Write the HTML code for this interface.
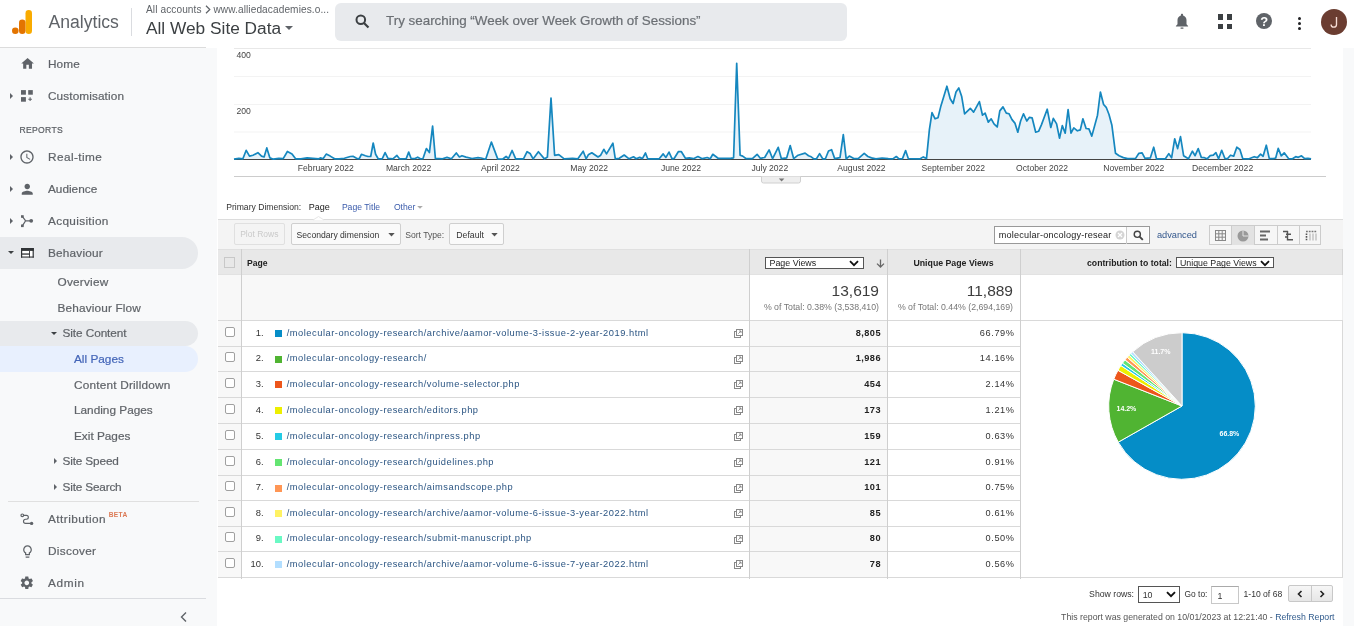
<!DOCTYPE html>
<html><head><meta charset="utf-8">
<style>
*{box-sizing:border-box;margin:0;padding:0}
html,body{width:1354px;height:626px;overflow:hidden;background:#fff;font-family:"Liberation Sans",sans-serif;color:#222}
.a{position:absolute;white-space:nowrap;line-height:1}
#hdr{position:absolute;left:0;top:0;width:1354px;height:48px;background:#fff}
#side{position:absolute;left:0;top:48px;width:217px;height:578px;background:#f8f9fa}
#rstrip{position:absolute;left:1343px;top:48px;width:11px;height:578px;background:#f8f9fa}
.nav{-webkit-text-stroke:0.2px currentColor;position:absolute;font-size:11.8px;line-height:1;color:#5f6368;white-space:nowrap}
.sub{position:absolute;font-size:11.9px;color:#5f6368;white-space:nowrap}
.tri-r{position:absolute;width:0;height:0;border-top:3px solid transparent;border-bottom:3px solid transparent;border-left:3px solid #5f6368}
.tri-d{position:absolute;width:0;height:0;border-left:3.5px solid transparent;border-right:3.5px solid transparent;border-top:3.5px solid #3c4043}
.lbl{font-size:8.6px;color:#444}
.cb{width:10px;height:10px;border:1px solid #a0a0a0;border-radius:2px;background:#fff}
.lnk{font-size:9.3px;letter-spacing:0.52px;color:#2a5482}
.pl{font-size:7px;font-weight:bold;color:#fff}
body{will-change:transform}
</style></head><body>
<div id="hdr"></div>
<div id="side"></div>
<div class="a" style="left:0;top:47px;width:206px;height:1px;background:#dcdcdc"></div>
<div id="rstrip"></div>

<!-- header content -->
<svg class="a" style="left:12px;top:10px" width="21" height="24" viewBox="0 0 21 24">
<rect x="13.5" y="0" width="6.5" height="24" rx="3.25" fill="#f9ab00"/>
<rect x="7" y="9.5" width="6.5" height="14.5" rx="3.25" fill="#e37400"/>
<circle cx="3.3" cy="20.7" r="3.3" fill="#e37400"/>
</svg>
<div class="a" style="left:48.5px;top:13.8px;font-size:17.6px;color:#5f6368">Analytics</div>
<div class="a" style="left:131px;top:8px;width:1px;height:28px;background:#dadce0"></div>
<div class="a" style="left:146px;top:4.6px;font-size:10.1px;letter-spacing:0.1px;color:#5f6368">All accounts <svg width="6" height="9" viewBox="0 0 6 9" style="vertical-align:-1px"><path d="M1 0.8 L4.8 4.5 L1 8.2" fill="none" stroke="#5f6368" stroke-width="1.2"/></svg> www.alliedacademies.o...</div>
<div class="a" style="left:146px;top:19.9px;font-size:17.3px;color:#3c4043">All Web Site Data</div>
<div class="a" style="left:285px;top:26px;width:0;height:0;border-left:4px solid transparent;border-right:4px solid transparent;border-top:4px solid #5f6368"></div>
<div class="a" style="left:335px;top:3px;width:512px;height:38px;background:#e8eaed;border-radius:6px"></div>
<svg class="a" style="left:355px;top:14px" width="15" height="15" viewBox="0 0 15 15"><circle cx="5.8" cy="5.8" r="4.3" fill="none" stroke="#3c4043" stroke-width="2"/><line x1="9" y1="9" x2="13.5" y2="13.5" stroke="#3c4043" stroke-width="2.2"/></svg>
<div class="a" style="left:386px;top:14px;font-size:13.4px;color:#6b6f74;-webkit-text-stroke:0.2px #6b6f74">Try searching &#x201C;Week over Week Growth of Sessions&#x201D;</div>


<!-- sidebar -->
<div class="a" style="left:0;top:237px;width:198px;height:32px;background:#e8eaed;border-radius:0 16px 16px 0"></div>
<div class="a" style="left:0;top:321px;width:198px;height:25px;background:#e8eaed;border-radius:0 12.5px 12.5px 0"></div>
<div class="a" style="left:0;top:346px;width:198px;height:26px;background:#e8f0fe;border-radius:0 13px 13px 0"></div>
<div class="a" style="left:8px;top:501px;width:191px;height:1px;background:#e0e0e0"></div>
<div class="a" style="left:0;top:598px;width:206px;height:1px;background:#dadce0"></div>

<div class="nav" style="left:48px;top:58.8px;letter-spacing:0.1px">Home</div>
<div class="nav" style="left:48px;top:90.8px;letter-spacing:0.1px">Customisation</div>
<div class="nav" style="left:19.5px;top:125.9px;font-size:8.6px;letter-spacing:0.3px;color:#5a5e63">REPORTS</div>
<div class="nav" style="left:48px;top:151.8px;letter-spacing:0.42px">Real-time</div>
<div class="nav" style="left:48px;top:183.8px">Audience</div>
<div class="nav" style="left:48px;top:215.8px;letter-spacing:0.33px">Acquisition</div>
<div class="nav" style="left:48px;top:247.8px;letter-spacing:0.2px">Behaviour</div>
<div class="nav" style="left:57.5px;top:276.8px;letter-spacing:0.23px">Overview</div>
<div class="nav" style="left:57.5px;top:302.8px;letter-spacing:0.15px">Behaviour Flow</div>
<div class="nav" style="left:62.5px;top:327.8px;letter-spacing:-0.08px">Site Content</div>
<div class="nav" style="left:74px;top:353.8px;color:#4365b8">All Pages</div>
<div class="nav" style="left:74px;top:379.8px;letter-spacing:0.2px">Content Drilldown</div>
<div class="nav" style="left:74px;top:405.3px">Landing Pages</div>
<div class="nav" style="left:74px;top:430.8px">Exit Pages</div>
<div class="nav" style="left:62.5px;top:455.8px;letter-spacing:-0.15px">Site Speed</div>
<div class="nav" style="left:62.5px;top:481.8px;letter-spacing:-0.18px">Site Search</div>
<div class="nav" style="left:48px;top:513.8px;letter-spacing:0.45px">Attribution</div>
<div class="a" style="left:108.8px;top:512.2px;font-size:6.6px;line-height:1;color:#dc7a55;font-weight:bold;letter-spacing:0.3px">BETA</div>
<div class="nav" style="left:48px;top:545.8px;letter-spacing:0.3px">Discover</div>
<div class="nav" style="left:48px;top:577.8px;letter-spacing:0.65px">Admin</div>

<div class="tri-r" style="left:10px;top:93px"></div>
<div class="tri-r" style="left:10px;top:154px"></div>
<div class="tri-r" style="left:10px;top:186px"></div>
<div class="tri-r" style="left:10px;top:218px"></div>
<div class="tri-d" style="left:8px;top:250.5px;border-width:3.5px 3.2px 0 3.2px"></div>
<div class="tri-d" style="left:51px;top:331.5px;border-width:3.5px 3.3px 0 3.3px"></div>
<div class="tri-r" style="left:53.5px;top:458px"></div>
<div class="tri-r" style="left:53.5px;top:484px"></div>

<svg class="a" style="left:19.7px;top:56.1px" width="15.2" height="15.2" viewBox="0 0 24 24"><path fill="#5f6368" d="M10 20v-6h4v6h5v-8h3L12 3 2 12h3v8z"/></svg>
<svg class="a" style="left:21px;top:90px" width="12" height="12" viewBox="0 0 12 12"><g fill="#5f6368"><rect x="0" y="0.1" width="4.9" height="4.6"/><rect x="7.2" y="0.1" width="4.6" height="4.6"/><rect x="0" y="7.1" width="4.9" height="4.6"/></g><path d="M9.1 7.3 V11 M7.3 9.2 H10.9" stroke="#5f6368" stroke-width="1.1"/></svg>
<svg class="a" style="left:19.3px;top:148.6px" width="16" height="16" viewBox="0 0 24 24"><path fill="#5f6368" d="M11.99 2C6.47 2 2 6.48 2 12s4.47 10 9.99 10C17.52 22 22 17.52 22 12S17.52 2 11.99 2zM12 20c-4.42 0-8-3.58-8-8s3.58-8 8-8 8 3.58 8 8-3.58 8-8 8zm.5-13H11v6l5.25 3.15.75-1.23-4.5-2.67z"/></svg>
<svg class="a" style="left:19px;top:181.2px" width="16.5" height="16.5" viewBox="0 0 24 24"><path fill="#5f6368" d="M12 12c2.21 0 4-1.79 4-4s-1.79-4-4-4-4 1.79-4 4 1.79 4 4 4zm0 2c-2.67 0-8 1.34-8 4v2h16v-2c0-2.66-5.33-4-8-4z"/></svg>
<svg class="a" style="left:19px;top:213px" width="16" height="16" viewBox="0 0 16 16"><g fill="#5f6368"><rect x="2" y="2.2" width="2.7" height="2.6"/><rect x="2" y="11.5" width="2.7" height="2.6"/><circle cx="12.2" cy="7.8" r="1.9"/></g><path d="M3.5 3.6 L6.6 7.8 L3.5 12.6 M6.6 7.8 H12" fill="none" stroke="#5f6368" stroke-width="1.2"/></svg>
<svg class="a" style="left:21px;top:248.2px" width="13" height="10" viewBox="0 0 13 10"><rect x="0.5" y="0.5" width="11.8" height="8.6" fill="#fff"/><g fill="#303336"><rect x="0" y="0" width="12.8" height="2.9"/><rect x="0" y="0" width="1.2" height="9.6"/><rect x="11.6" y="0" width="1.2" height="9.6"/><rect x="0" y="8.5" width="12.8" height="1.1"/><rect x="0" y="5.4" width="9" height="1.3"/><rect x="8.1" y="2.9" width="0.9" height="6.7"/></g></svg>
<svg class="a" style="left:19.5px;top:512.5px" width="14" height="13" viewBox="0 0 14 13"><g fill="none" stroke="#5f6368" stroke-width="1.15"><circle cx="2.3" cy="2.3" r="1.35"/><path d="M3.65 2.3 H6.4 A1.95 1.95 0 0 1 6.4 6.2 H5.6 A2.1 2.1 0 0 0 5.6 10.4 H10"/></g><circle cx="11.6" cy="10.4" r="1.7" fill="#5f6368"/></svg>
<svg class="a" style="left:20px;top:544.3px" width="15" height="15" viewBox="0 0 24 24"><path fill="#5f6368" d="M9 21c0 .55.45 1 1 1h4c.55 0 1-.45 1-1v-1H9v1zm3-19C8.14 2 5 5.14 5 9c0 2.38 1.19 4.47 3 5.74V17c0 .55.45 1 1 1h6c.55 0 1-.45 1-1v-2.26c1.81-1.27 3-3.36 3-5.74 0-3.86-3.14-7-7-7zm2.85 11.1l-.85.6V16h-4v-2.3l-.85-.6C7.8 12.16 7 10.63 7 9c0-2.76 2.24-5 5-5s5 2.24 5 5c0 1.63-.8 3.16-2.15 4.1z"/></svg>
<svg class="a" style="left:19.2px;top:575.2px" width="15.6" height="15.6" viewBox="0 0 24 24"><path fill="#5f6368" d="M19.14 12.94c.04-.3.06-.61.06-.94 0-.32-.02-.64-.07-.94l2.03-1.58c.18-.14.23-.41.12-.61l-1.92-3.32c-.12-.22-.37-.29-.59-.22l-2.39.96c-.5-.38-1.03-.7-1.62-.94l-.36-2.54c-.04-.24-.24-.41-.48-.41h-3.84c-.24 0-.43.17-.47.41l-.36 2.54c-.59.24-1.13.57-1.62.94l-2.39-.96c-.22-.08-.47 0-.59.22L2.74 8.87c-.12.21-.08.47.12.61l2.03 1.58c-.05.3-.09.63-.09.94s.02.64.07.94l-2.03 1.58c-.18.14-.23.41-.12.61l1.92 3.32c.12.22.37.29.59.22l2.39-.96c.5.38 1.03.7 1.62.94l.36 2.54c.05.24.24.41.48.41h3.84c.24 0 .44-.17.47-.41l.36-2.54c.59-.24 1.13-.56 1.62-.94l2.39.96c.22.08.47 0 .59-.22l1.92-3.32c.12-.22.07-.47-.12-.61l-2.01-1.58zM12 15.6c-1.98 0-3.6-1.62-3.6-3.6s1.62-3.6 3.6-3.6 3.6 1.62 3.6 3.6-1.62 3.6-3.6 3.6z"/></svg>
<svg class="a" style="left:179px;top:611px" width="9" height="12" viewBox="0 0 9 12"><path d="M7 1.5L2.5 6 7 10.5" fill="none" stroke="#5f6368" stroke-width="1.4"/></svg>


<!-- chart -->
<svg class="a" style="left:0;top:0" width="1354" height="190" viewBox="0 0 1354 190">
<g stroke="#f3f3f3" stroke-width="1"><line x1="234" y1="48.5" x2="1311" y2="48.5" stroke="#e8e8e8"/><line x1="234" y1="76.5" x2="1311" y2="76.5"/><line x1="234" y1="104.5" x2="1311" y2="104.5"/><line x1="234" y1="132" x2="1311" y2="132"/></g>
<path d="M234,159.3 L234,159.2 L238.9,158.3 L242.9,158.8 L246.2,150.3 L249.5,156.1 L253,155.2 L257.9,152.7 L261.5,156.1 L264.1,157 L266.8,147.9 L269.9,157.9 L273.4,159.2 L278.8,158.3 L283.2,158.6 L287.4,151.5 L292,153.9 L295.6,158.8 L300.9,158.8 L307.1,157.9 L318.7,158.8 L320.4,157.9 L323.1,158.8 L326.2,154.1 L330.2,156.1 L334.6,158.8 L339,158.8 L344.4,158.3 L350.3,156.5 L353,156.3 L356.5,158.3 L359.2,158.8 L361.4,154.3 L365.4,155.7 L368,156.5 L370.7,156.5 L373.2,143 L375.6,154.3 L378.2,158.8 L382.2,158.8 L385.1,152.6 L388,158.3 L392.9,158.8 L396.9,155.4 L399.5,158.8 L406.2,158.6 L408.7,152.1 L411,158.3 L415,158.6 L417.7,157.2 L420.4,158.8 L423,158.6 L426.4,148.6 L429.4,152.6 L432.6,126.1 L435.4,158.6 L439,158.6 L442.5,158.8 L447,157.4 L451.4,158.8 L456.3,153 L459.4,157 L462,155.7 L466,157.1 L472,158.5 L478,157.7 L481,158 L485.7,159.2 L491.4,142.1 L497.7,158.9 L502.5,159.2 L506.1,156.5 L508.5,158.5 L512.1,150.5 L515.7,158.9 L523.5,158.9 L527.1,151.7 L530.1,153.5 L533.1,158.9 L538.4,151.7 L544.4,158.9 L547.4,157.1 L551,98.1 L554.6,155.3 L558.8,154.7 L564.2,158.9 L572.6,158.3 L577.7,158.9 L583.2,151.2 L586.1,158.8 L588.3,154.8 L591.8,152.8 L598,157 L600.7,155.2 L603.8,149.3 L606.5,153.9 L612.9,143.2 L615.3,158.9 L619.3,158.3 L624.2,155 L629.1,158.8 L633.5,156.8 L636.2,158.8 L639.7,157.4 L642.4,158.6 L645.5,153 L647.7,158.8 L654.8,158.8 L659.2,158.8 L663.2,153.9 L665.9,157.4 L669,152.1 L672.1,158.8 L674.3,158.3 L678.3,151.7 L681.4,151.7 L685.4,158.3 L689.4,157.9 L693.5,158.7 L697.9,156.6 L702.3,158.7 L707.2,157.5 L710.2,158.7 L712.8,154.3 L718.1,158.3 L725.1,158.3 L730.4,158.3 L733.6,157.8 L736.7,63.4 L740.1,155.2 L742.7,156.1 L746.2,158.7 L752.4,158.7 L757.1,154.3 L760.3,158.3 L764.7,157.5 L769.1,149.9 L772.6,158.7 L778.2,147.3 L781.4,158.7 L786.7,157.8 L790.2,145.5 L793.7,158.7 L798.1,155.2 L805.1,153.1 L808.5,155.7 L811.2,156.8 L813.9,158.9 L816.5,158.8 L819.6,153.6 L822.7,158.8 L825.4,158.8 L828.5,151 L831.6,149.7 L834.7,158.6 L840,157.7 L843.3,134.6 L846.2,158.8 L849.3,156.1 L853.8,158.6 L858.2,158.6 L864.2,153.4 L867.9,156.5 L871.5,157.9 L875.9,158.9 L882.1,158 L888.3,158.6 L892.8,158.9 L896.3,156.5 L899,158.9 L902.5,158.6 L905.6,150.6 L908.3,158.6 L920.2,158.8 L923.3,156.9 L926.5,158.6 L929.4,129.6 L932,112.7 L935.1,118.8 L938,117.7 L940.9,105.9 L946.9,86.2 L950.2,98.7 L953.1,103.5 L956,92 L958.8,87.9 L961.7,96.6 L964.6,113.8 L970.3,108.3 L973.6,112.1 L979.4,101.6 L982.5,115.2 L985.1,113.1 L988.3,122.1 L991.2,118.8 L994,123.9 L997.2,127 L999.8,110.9 L1003,106.9 L1006.3,113.1 L1009.1,113.8 L1012,119.6 L1014.9,123.1 L1017.8,132.2 L1020.6,121 L1023.5,113.8 L1026.8,121 L1029.3,117.4 L1032.1,117.8 L1035.7,132.2 L1038.6,131.3 L1041.5,124.6 L1047.2,109.2 L1050.8,127.5 L1053.3,118.4 L1056.6,123.9 L1059.5,138.2 L1062.3,125.6 L1065.2,133.2 L1068.1,109.5 L1071,133.2 L1073.8,127.9 L1077.4,130.8 L1080.3,129.9 L1082.9,118.8 L1086.1,128.5 L1088.9,128.9 L1091.8,136.1 L1097.5,115.2 L1100.4,92 L1103.6,104.5 L1106.2,107.3 L1109,114.5 L1111.9,125.3 L1115.5,153.3 L1119.1,155.8 L1123.4,157.6 L1127.7,158.6 L1135.6,158.4 L1138.9,153.3 L1142.1,152.9 L1145,158.4 L1150.3,157.9 L1153.7,147.2 L1156.5,158.8 L1165.4,158.8 L1168.8,153.6 L1171.6,157.9 L1174.7,138.8 L1177.6,148.6 L1180.5,136.6 L1183.6,155.7 L1188.4,158.8 L1192.4,151.2 L1195.1,155.7 L1198.2,148.6 L1201.3,157.4 L1204.4,157.7 L1207.1,158.8 L1210.2,155.7 L1213.3,155.2 L1215.9,152.6 L1218.6,158.8 L1221.7,150.3 L1224.8,158.3 L1227.4,158.8 L1230.5,155.2 L1233.7,156.1 L1236.8,147.2 L1239.9,149.5 L1242.7,158.6 L1249.1,158.8 L1254.2,156.7 L1257.4,157.6 L1260.6,154.1 L1263.1,156.3 L1266.3,145.2 L1269.3,158.6 L1273.4,158.6 L1275.7,158 L1278.2,148.4 L1281.3,155.8 L1284.2,152.8 L1288.5,158.6 L1292.5,158.8 L1295.7,156.7 L1298.3,157.3 L1301.5,155.8 L1304.7,158.6 L1307.9,158.3 L1311.1,158.8 L1311.1,159.3 Z" fill="#e7f2f9"/>
<line x1="234" y1="159.5" x2="1311" y2="159.5" stroke="#444" stroke-width="1"/>
<polyline points="234,159.2 238.9,158.3 242.9,158.8 246.2,150.3 249.5,156.1 253,155.2 257.9,152.7 261.5,156.1 264.1,157 266.8,147.9 269.9,157.9 273.4,159.2 278.8,158.3 283.2,158.6 287.4,151.5 292,153.9 295.6,158.8 300.9,158.8 307.1,157.9 318.7,158.8 320.4,157.9 323.1,158.8 326.2,154.1 330.2,156.1 334.6,158.8 339,158.8 344.4,158.3 350.3,156.5 353,156.3 356.5,158.3 359.2,158.8 361.4,154.3 365.4,155.7 368,156.5 370.7,156.5 373.2,143 375.6,154.3 378.2,158.8 382.2,158.8 385.1,152.6 388,158.3 392.9,158.8 396.9,155.4 399.5,158.8 406.2,158.6 408.7,152.1 411,158.3 415,158.6 417.7,157.2 420.4,158.8 423,158.6 426.4,148.6 429.4,152.6 432.6,126.1 435.4,158.6 439,158.6 442.5,158.8 447,157.4 451.4,158.8 456.3,153 459.4,157 462,155.7 466,157.1 472,158.5 478,157.7 481,158 485.7,159.2 491.4,142.1 497.7,158.9 502.5,159.2 506.1,156.5 508.5,158.5 512.1,150.5 515.7,158.9 523.5,158.9 527.1,151.7 530.1,153.5 533.1,158.9 538.4,151.7 544.4,158.9 547.4,157.1 551,98.1 554.6,155.3 558.8,154.7 564.2,158.9 572.6,158.3 577.7,158.9 583.2,151.2 586.1,158.8 588.3,154.8 591.8,152.8 598,157 600.7,155.2 603.8,149.3 606.5,153.9 612.9,143.2 615.3,158.9 619.3,158.3 624.2,155 629.1,158.8 633.5,156.8 636.2,158.8 639.7,157.4 642.4,158.6 645.5,153 647.7,158.8 654.8,158.8 659.2,158.8 663.2,153.9 665.9,157.4 669,152.1 672.1,158.8 674.3,158.3 678.3,151.7 681.4,151.7 685.4,158.3 689.4,157.9 693.5,158.7 697.9,156.6 702.3,158.7 707.2,157.5 710.2,158.7 712.8,154.3 718.1,158.3 725.1,158.3 730.4,158.3 733.6,157.8 736.7,63.4 740.1,155.2 742.7,156.1 746.2,158.7 752.4,158.7 757.1,154.3 760.3,158.3 764.7,157.5 769.1,149.9 772.6,158.7 778.2,147.3 781.4,158.7 786.7,157.8 790.2,145.5 793.7,158.7 798.1,155.2 805.1,153.1 808.5,155.7 811.2,156.8 813.9,158.9 816.5,158.8 819.6,153.6 822.7,158.8 825.4,158.8 828.5,151 831.6,149.7 834.7,158.6 840,157.7 843.3,134.6 846.2,158.8 849.3,156.1 853.8,158.6 858.2,158.6 864.2,153.4 867.9,156.5 871.5,157.9 875.9,158.9 882.1,158 888.3,158.6 892.8,158.9 896.3,156.5 899,158.9 902.5,158.6 905.6,150.6 908.3,158.6 920.2,158.8 923.3,156.9 926.5,158.6 929.4,129.6 932,112.7 935.1,118.8 938,117.7 940.9,105.9 946.9,86.2 950.2,98.7 953.1,103.5 956,92 958.8,87.9 961.7,96.6 964.6,113.8 970.3,108.3 973.6,112.1 979.4,101.6 982.5,115.2 985.1,113.1 988.3,122.1 991.2,118.8 994,123.9 997.2,127 999.8,110.9 1003,106.9 1006.3,113.1 1009.1,113.8 1012,119.6 1014.9,123.1 1017.8,132.2 1020.6,121 1023.5,113.8 1026.8,121 1029.3,117.4 1032.1,117.8 1035.7,132.2 1038.6,131.3 1041.5,124.6 1047.2,109.2 1050.8,127.5 1053.3,118.4 1056.6,123.9 1059.5,138.2 1062.3,125.6 1065.2,133.2 1068.1,109.5 1071,133.2 1073.8,127.9 1077.4,130.8 1080.3,129.9 1082.9,118.8 1086.1,128.5 1088.9,128.9 1091.8,136.1 1097.5,115.2 1100.4,92 1103.6,104.5 1106.2,107.3 1109,114.5 1111.9,125.3 1115.5,153.3 1119.1,155.8 1123.4,157.6 1127.7,158.6 1135.6,158.4 1138.9,153.3 1142.1,152.9 1145,158.4 1150.3,157.9 1153.7,147.2 1156.5,158.8 1165.4,158.8 1168.8,153.6 1171.6,157.9 1174.7,138.8 1177.6,148.6 1180.5,136.6 1183.6,155.7 1188.4,158.8 1192.4,151.2 1195.1,155.7 1198.2,148.6 1201.3,157.4 1204.4,157.7 1207.1,158.8 1210.2,155.7 1213.3,155.2 1215.9,152.6 1218.6,158.8 1221.7,150.3 1224.8,158.3 1227.4,158.8 1230.5,155.2 1233.7,156.1 1236.8,147.2 1239.9,149.5 1242.7,158.6 1249.1,158.8 1254.2,156.7 1257.4,157.6 1260.6,154.1 1263.1,156.3 1266.3,145.2 1269.3,158.6 1273.4,158.6 1275.7,158 1278.2,148.4 1281.3,155.8 1284.2,152.8 1288.5,158.6 1292.5,158.8 1295.7,156.7 1298.3,157.3 1301.5,155.8 1304.7,158.6 1307.9,158.3 1311.1,158.8" fill="none" stroke="#1587bf" stroke-width="1.7" stroke-linejoin="round"/>
<line x1="234" y1="176.5" x2="1326" y2="176.5" stroke="#ccc" stroke-width="1"/>
<path d="M761.5,176.5 v4.5 a2,2 0 0 0 2,2 h35 a2,2 0 0 0 2,-2 v-4.5" fill="#eee" stroke="#d0d0d0" stroke-width="1"/>
<path d="M778.8,178.6 h5.6 l-2.8,2.8z" fill="#777"/>
</svg>
<div class="a lbl" style="left:236.5px;top:50.7px">400</div>
<div class="a lbl" style="left:236.5px;top:107px">200</div>
<div class="a lbl" style="left:265.8px;width:120px;text-align:center;top:164.2px">February 2022</div>
<div class="a lbl" style="left:348.6px;width:120px;text-align:center;top:164.2px">March 2022</div>
<div class="a lbl" style="left:440.4px;width:120px;text-align:center;top:164.2px">April 2022</div>
<div class="a lbl" style="left:529.2px;width:120px;text-align:center;top:164.2px">May 2022</div>
<div class="a lbl" style="left:621.0px;width:120px;text-align:center;top:164.2px">June 2022</div>
<div class="a lbl" style="left:709.8px;width:120px;text-align:center;top:164.2px">July 2022</div>
<div class="a lbl" style="left:801.5px;width:120px;text-align:center;top:164.2px">August 2022</div>
<div class="a lbl" style="left:893.3px;width:120px;text-align:center;top:164.2px">September 2022</div>
<div class="a lbl" style="left:982.1px;width:120px;text-align:center;top:164.2px">October 2022</div>
<div class="a lbl" style="left:1073.8px;width:120px;text-align:center;top:164.2px">November 2022</div>
<div class="a lbl" style="left:1162.6px;width:120px;text-align:center;top:164.2px">December 2022</div>

<!-- table -->
<div class="a" style="left:218px;top:219px;width:1125px;height:30px;background:#f4f4f4;border-top:1px solid #dcdcdc"></div>
<div class="a" style="left:218px;top:249px;width:1125px;height:26px;background:#e8e8e8;border-top:1px solid #e0e0e0;border-bottom:1px solid #e2e2e2"></div>
<div class="a" style="left:218px;top:275px;width:532px;height:45px;background:#f8f8f8"></div>
<div class="a" style="left:224px;top:256.8px;width:11px;height:11px;border:1px solid #c8c8c8"></div>
<div class="a" style="left:247px;top:258.6px;font-size:8.6px;font-weight:bold;color:#222">Page</div>
<div class="a" style="left:765px;top:257px;width:99px;height:12px;background:#fff;border:1px solid #555"></div>
<div class="a" style="left:769.5px;top:259.3px;font-size:8.9px;color:#222">Page Views</div>
<svg class="a" style="left:849px;top:259.5px" width="10" height="7" viewBox="0 0 10 7"><path d="M1 1.2 L5 5.2 L9 1.2" fill="none" stroke="#111" stroke-width="1.8"/></svg>
<svg class="a" style="left:875.5px;top:258.5px" width="9" height="9" viewBox="0 0 9 9"><path d="M4.5 0.5 V8 M1 4.6 L4.5 8 L8 4.6" fill="none" stroke="#666" stroke-width="1.3"/></svg>
<div class="a" style="left:887px;width:133px;text-align:center;top:258.6px;font-size:8.75px;font-weight:bold;color:#222">Unique Page Views</div>
<div class="a" style="left:1087px;top:258.6px;font-size:8.7px;font-weight:bold;color:#222">contribution to total:</div>
<div class="a" style="left:1175.5px;top:257.3px;width:98px;height:11px;background:#fff;border:1px solid #555"></div>
<div class="a" style="left:1180px;top:259px;font-size:8.8px;color:#222">Unique Page Views</div>
<svg class="a" style="left:1259.5px;top:259.5px" width="10" height="7" viewBox="0 0 10 7"><path d="M1 1.2 L5 5.2 L9 1.2" fill="none" stroke="#111" stroke-width="1.8"/></svg>
<div class="a" style="left:750px;width:129px;text-align:right;top:283.1px;font-size:15.5px;color:#3d3d3d">13,619</div>
<div class="a" style="left:750px;width:129px;text-align:right;top:302.8px;font-size:8.75px;color:#777">% of Total: 0.38% (3,538,410)</div>
<div class="a" style="left:887px;width:126px;text-align:right;top:283.1px;font-size:15.5px;color:#3d3d3d">11,889</div>
<div class="a" style="left:887px;width:126px;text-align:right;top:302.8px;font-size:8.75px;color:#777">% of Total: 0.44% (2,694,169)</div>
<!-- rows -->
<div class="a" style="left:218px;top:320px;width:23px;height:258px;background:#f8f8f8"></div>
<div class="a" style="left:750px;top:320px;width:137px;height:258px;background:#f8f8f8"></div>
<div class="a" style="left:218px;top:320px;width:1125px;height:1px;background:#d9d9d9"></div>
<div class="a" style="left:218px;top:346px;width:803px;height:1px;background:#d9d9d9"></div>
<div class="a" style="left:218px;top:371px;width:803px;height:1px;background:#d9d9d9"></div>
<div class="a" style="left:218px;top:397px;width:803px;height:1px;background:#d9d9d9"></div>
<div class="a" style="left:218px;top:423px;width:803px;height:1px;background:#d9d9d9"></div>
<div class="a" style="left:218px;top:449px;width:803px;height:1px;background:#d9d9d9"></div>
<div class="a" style="left:218px;top:475px;width:803px;height:1px;background:#d9d9d9"></div>
<div class="a" style="left:218px;top:500px;width:803px;height:1px;background:#d9d9d9"></div>
<div class="a" style="left:218px;top:526px;width:803px;height:1px;background:#d9d9d9"></div>
<div class="a" style="left:218px;top:551px;width:803px;height:1px;background:#d9d9d9"></div>
<div class="a" style="left:218px;top:577px;width:1125px;height:1px;background:#d9d9d9"></div>
<div class="a" style="left:1342px;top:249px;width:1px;height:26px;background:#d6d6d6"></div>
<div class="a" style="left:1342px;top:275px;width:1px;height:45px;background:#eeeeee"></div>
<div class="a" style="left:1342px;top:320px;width:1px;height:258.00px;background:#d9d9d9"></div>
<div class="a" style="left:241px;top:249px;width:1px;height:329.50px;background:#cfcfcf"></div>
<div class="a" style="left:749px;top:249px;width:1px;height:329.50px;background:#cfcfcf"></div>
<div class="a" style="left:887px;top:249px;width:1px;height:329.50px;background:#cfcfcf"></div>
<div class="a" style="left:1020px;top:249px;width:1px;height:329.50px;background:#cfcfcf"></div>
<div class="a cb" style="left:225px;top:326.94px"></div>
<div class="a" style="left:230px;width:33.5px;text-align:right;top:327.94px;font-size:9.4px;color:#333">1.</div>
<div class="a" style="left:275px;top:330.24px;width:7px;height:7px;background:#058dc7"></div>
<div class="a lnk" style="left:286.7px;top:328.54px">/molecular-oncology-research/archive/aamor-volume-3-issue-2-year-2019.html</div>
<svg class="a" style="left:734px;top:329.04px" width="9" height="9" viewBox="0 0 9 9"><rect x="0.5" y="2.5" width="6" height="6" fill="#fff" stroke="#888" stroke-width="1"/><rect x="2.5" y="0.5" width="6" height="6" fill="#fff" stroke="#888" stroke-width="1"/><path d="M4.3 4.7 L7 2 M5 2 H7 V4" stroke="#888" stroke-width="0.9" fill="none"/></svg>
<div class="a" style="left:750px;width:131px;text-align:right;top:328.84px;font-size:9.2px;letter-spacing:0.47px;font-weight:bold;color:#222">8,805</div>
<div class="a" style="left:887px;width:127.6px;text-align:right;top:328.84px;font-size:9.2px;letter-spacing:0.6px;color:#333">66.79%</div>
<div class="a cb" style="left:225px;top:352.44px"></div>
<div class="a" style="left:230px;width:33.5px;text-align:right;top:353.44px;font-size:9.4px;color:#333">2.</div>
<div class="a" style="left:275px;top:355.74px;width:7px;height:7px;background:#50b432"></div>
<div class="a lnk" style="left:286.7px;top:354.04px">/molecular-oncology-research/</div>
<svg class="a" style="left:734px;top:354.54px" width="9" height="9" viewBox="0 0 9 9"><rect x="0.5" y="2.5" width="6" height="6" fill="#fff" stroke="#888" stroke-width="1"/><rect x="2.5" y="0.5" width="6" height="6" fill="#fff" stroke="#888" stroke-width="1"/><path d="M4.3 4.7 L7 2 M5 2 H7 V4" stroke="#888" stroke-width="0.9" fill="none"/></svg>
<div class="a" style="left:750px;width:131px;text-align:right;top:354.34px;font-size:9.2px;letter-spacing:0.47px;font-weight:bold;color:#222">1,986</div>
<div class="a" style="left:887px;width:127.6px;text-align:right;top:354.34px;font-size:9.2px;letter-spacing:0.6px;color:#333">14.16%</div>
<div class="a cb" style="left:225px;top:377.94px"></div>
<div class="a" style="left:230px;width:33.5px;text-align:right;top:378.94px;font-size:9.4px;color:#333">3.</div>
<div class="a" style="left:275px;top:381.24px;width:7px;height:7px;background:#ed561b"></div>
<div class="a lnk" style="left:286.7px;top:379.54px">/molecular-oncology-research/volume-selector.php</div>
<svg class="a" style="left:734px;top:380.04px" width="9" height="9" viewBox="0 0 9 9"><rect x="0.5" y="2.5" width="6" height="6" fill="#fff" stroke="#888" stroke-width="1"/><rect x="2.5" y="0.5" width="6" height="6" fill="#fff" stroke="#888" stroke-width="1"/><path d="M4.3 4.7 L7 2 M5 2 H7 V4" stroke="#888" stroke-width="0.9" fill="none"/></svg>
<div class="a" style="left:750px;width:131px;text-align:right;top:379.84px;font-size:9.2px;letter-spacing:0.47px;font-weight:bold;color:#222">454</div>
<div class="a" style="left:887px;width:127.6px;text-align:right;top:379.84px;font-size:9.2px;letter-spacing:0.6px;color:#333">2.14%</div>
<div class="a cb" style="left:225px;top:403.94px"></div>
<div class="a" style="left:230px;width:33.5px;text-align:right;top:404.94px;font-size:9.4px;color:#333">4.</div>
<div class="a" style="left:275px;top:407.24px;width:7px;height:7px;background:#edef00"></div>
<div class="a lnk" style="left:286.7px;top:405.54px">/molecular-oncology-research/editors.php</div>
<svg class="a" style="left:734px;top:406.04px" width="9" height="9" viewBox="0 0 9 9"><rect x="0.5" y="2.5" width="6" height="6" fill="#fff" stroke="#888" stroke-width="1"/><rect x="2.5" y="0.5" width="6" height="6" fill="#fff" stroke="#888" stroke-width="1"/><path d="M4.3 4.7 L7 2 M5 2 H7 V4" stroke="#888" stroke-width="0.9" fill="none"/></svg>
<div class="a" style="left:750px;width:131px;text-align:right;top:405.84px;font-size:9.2px;letter-spacing:0.47px;font-weight:bold;color:#222">173</div>
<div class="a" style="left:887px;width:127.6px;text-align:right;top:405.84px;font-size:9.2px;letter-spacing:0.6px;color:#333">1.21%</div>
<div class="a cb" style="left:225px;top:429.94px"></div>
<div class="a" style="left:230px;width:33.5px;text-align:right;top:430.94px;font-size:9.4px;color:#333">5.</div>
<div class="a" style="left:275px;top:433.24px;width:7px;height:7px;background:#24cbe5"></div>
<div class="a lnk" style="left:286.7px;top:431.54px">/molecular-oncology-research/inpress.php</div>
<svg class="a" style="left:734px;top:432.04px" width="9" height="9" viewBox="0 0 9 9"><rect x="0.5" y="2.5" width="6" height="6" fill="#fff" stroke="#888" stroke-width="1"/><rect x="2.5" y="0.5" width="6" height="6" fill="#fff" stroke="#888" stroke-width="1"/><path d="M4.3 4.7 L7 2 M5 2 H7 V4" stroke="#888" stroke-width="0.9" fill="none"/></svg>
<div class="a" style="left:750px;width:131px;text-align:right;top:431.84px;font-size:9.2px;letter-spacing:0.47px;font-weight:bold;color:#222">159</div>
<div class="a" style="left:887px;width:127.6px;text-align:right;top:431.84px;font-size:9.2px;letter-spacing:0.6px;color:#333">0.63%</div>
<div class="a cb" style="left:225px;top:455.94px"></div>
<div class="a" style="left:230px;width:33.5px;text-align:right;top:456.94px;font-size:9.4px;color:#333">6.</div>
<div class="a" style="left:275px;top:459.24px;width:7px;height:7px;background:#64e572"></div>
<div class="a lnk" style="left:286.7px;top:457.54px">/molecular-oncology-research/guidelines.php</div>
<svg class="a" style="left:734px;top:458.04px" width="9" height="9" viewBox="0 0 9 9"><rect x="0.5" y="2.5" width="6" height="6" fill="#fff" stroke="#888" stroke-width="1"/><rect x="2.5" y="0.5" width="6" height="6" fill="#fff" stroke="#888" stroke-width="1"/><path d="M4.3 4.7 L7 2 M5 2 H7 V4" stroke="#888" stroke-width="0.9" fill="none"/></svg>
<div class="a" style="left:750px;width:131px;text-align:right;top:457.84px;font-size:9.2px;letter-spacing:0.47px;font-weight:bold;color:#222">121</div>
<div class="a" style="left:887px;width:127.6px;text-align:right;top:457.84px;font-size:9.2px;letter-spacing:0.6px;color:#333">0.91%</div>
<div class="a cb" style="left:225px;top:481.44px"></div>
<div class="a" style="left:230px;width:33.5px;text-align:right;top:482.44px;font-size:9.4px;color:#333">7.</div>
<div class="a" style="left:275px;top:484.74px;width:7px;height:7px;background:#ff9655"></div>
<div class="a lnk" style="left:286.7px;top:483.04px">/molecular-oncology-research/aimsandscope.php</div>
<svg class="a" style="left:734px;top:483.54px" width="9" height="9" viewBox="0 0 9 9"><rect x="0.5" y="2.5" width="6" height="6" fill="#fff" stroke="#888" stroke-width="1"/><rect x="2.5" y="0.5" width="6" height="6" fill="#fff" stroke="#888" stroke-width="1"/><path d="M4.3 4.7 L7 2 M5 2 H7 V4" stroke="#888" stroke-width="0.9" fill="none"/></svg>
<div class="a" style="left:750px;width:131px;text-align:right;top:483.34px;font-size:9.2px;letter-spacing:0.47px;font-weight:bold;color:#222">101</div>
<div class="a" style="left:887px;width:127.6px;text-align:right;top:483.34px;font-size:9.2px;letter-spacing:0.6px;color:#333">0.75%</div>
<div class="a cb" style="left:225px;top:506.94px"></div>
<div class="a" style="left:230px;width:33.5px;text-align:right;top:507.94px;font-size:9.4px;color:#333">8.</div>
<div class="a" style="left:275px;top:510.24px;width:7px;height:7px;background:#fff263"></div>
<div class="a lnk" style="left:286.7px;top:508.54px">/molecular-oncology-research/archive/aamor-volume-6-issue-3-year-2022.html</div>
<svg class="a" style="left:734px;top:509.04px" width="9" height="9" viewBox="0 0 9 9"><rect x="0.5" y="2.5" width="6" height="6" fill="#fff" stroke="#888" stroke-width="1"/><rect x="2.5" y="0.5" width="6" height="6" fill="#fff" stroke="#888" stroke-width="1"/><path d="M4.3 4.7 L7 2 M5 2 H7 V4" stroke="#888" stroke-width="0.9" fill="none"/></svg>
<div class="a" style="left:750px;width:131px;text-align:right;top:508.84px;font-size:9.2px;letter-spacing:0.47px;font-weight:bold;color:#222">85</div>
<div class="a" style="left:887px;width:127.6px;text-align:right;top:508.84px;font-size:9.2px;letter-spacing:0.6px;color:#333">0.61%</div>
<div class="a cb" style="left:225px;top:532.44px"></div>
<div class="a" style="left:230px;width:33.5px;text-align:right;top:533.44px;font-size:9.4px;color:#333">9.</div>
<div class="a" style="left:275px;top:535.74px;width:7px;height:7px;background:#6af9c4"></div>
<div class="a lnk" style="left:286.7px;top:534.04px">/molecular-oncology-research/submit-manuscript.php</div>
<svg class="a" style="left:734px;top:534.54px" width="9" height="9" viewBox="0 0 9 9"><rect x="0.5" y="2.5" width="6" height="6" fill="#fff" stroke="#888" stroke-width="1"/><rect x="2.5" y="0.5" width="6" height="6" fill="#fff" stroke="#888" stroke-width="1"/><path d="M4.3 4.7 L7 2 M5 2 H7 V4" stroke="#888" stroke-width="0.9" fill="none"/></svg>
<div class="a" style="left:750px;width:131px;text-align:right;top:534.34px;font-size:9.2px;letter-spacing:0.47px;font-weight:bold;color:#222">80</div>
<div class="a" style="left:887px;width:127.6px;text-align:right;top:534.34px;font-size:9.2px;letter-spacing:0.6px;color:#333">0.50%</div>
<div class="a cb" style="left:225px;top:557.94px"></div>
<div class="a" style="left:230px;width:33.5px;text-align:right;top:558.94px;font-size:9.4px;color:#333">10.</div>
<div class="a" style="left:275px;top:561.24px;width:7px;height:7px;background:#b2deff"></div>
<div class="a lnk" style="left:286.7px;top:559.54px">/molecular-oncology-research/archive/aamor-volume-6-issue-7-year-2022.html</div>
<svg class="a" style="left:734px;top:560.04px" width="9" height="9" viewBox="0 0 9 9"><rect x="0.5" y="2.5" width="6" height="6" fill="#fff" stroke="#888" stroke-width="1"/><rect x="2.5" y="0.5" width="6" height="6" fill="#fff" stroke="#888" stroke-width="1"/><path d="M4.3 4.7 L7 2 M5 2 H7 V4" stroke="#888" stroke-width="0.9" fill="none"/></svg>
<div class="a" style="left:750px;width:131px;text-align:right;top:559.84px;font-size:9.2px;letter-spacing:0.47px;font-weight:bold;color:#222">78</div>
<div class="a" style="left:887px;width:127.6px;text-align:right;top:559.84px;font-size:9.2px;letter-spacing:0.6px;color:#333">0.56%</div>
<!-- /rows -->
<!-- header icons -->
<svg class="a" style="left:1174px;top:12px" width="16" height="18" viewBox="0 0 16 18"><path d="M8 1.8c.7 0 1.1.5 1.1 1.1v.5c2.1.6 3.4 2.5 3.4 4.7v4.2l1.6 1.6v.7H1.9v-.7l1.6-1.6V8.1c0-2.2 1.3-4.1 3.4-4.7v-.5c0-.6.4-1.1 1.1-1.1z" fill="#5f6368"/><rect x="6.4" y="15.4" width="3.2" height="1.3" rx=".6" fill="#5f6368"/></svg>
<div class="a" style="left:1218px;top:14.4px;width:5.3px;height:5.3px;background:#3c4043"></div>
<div class="a" style="left:1227px;top:14.4px;width:5.3px;height:5.3px;background:#3c4043"></div>
<div class="a" style="left:1218px;top:23.9px;width:5.3px;height:5.3px;background:#3c4043"></div>
<div class="a" style="left:1227px;top:23.9px;width:5.3px;height:5.3px;background:#3c4043"></div>
<div class="a" style="left:1256px;top:13.2px;width:16px;height:16px;border-radius:50%;background:#5f6368"></div>
<div class="a" style="left:1256.3px;top:15px;width:16px;text-align:center;font-size:13px;font-weight:bold;color:#fff">?</div>
<div class="a" style="left:1297.6px;top:16.8px;width:3.3px;height:3.3px;border-radius:50%;background:#202124"></div>
<div class="a" style="left:1297.6px;top:21.8px;width:3.3px;height:3.3px;border-radius:50%;background:#202124"></div>
<div class="a" style="left:1297.6px;top:26.7px;width:3.3px;height:3.3px;border-radius:50%;background:#202124"></div>
<div class="a" style="left:1321px;top:8.8px;width:26px;height:26px;border-radius:50%;background:#6b3d31"></div>
<svg class="a" style="left:1321px;top:8.8px" width="26" height="26" viewBox="0 0 26 26"><path d="M15.5 8 V15.4 a2.7 2.7 0 0 1 -5.4 0" fill="none" stroke="#f6dcd4" stroke-width="1.35"/></svg>

<!-- primary dim -->
<div class="a" style="left:226.2px;top:202.5px;font-size:8.6px;color:#333">Primary Dimension:</div>
<div class="a" style="left:308.7px;top:203.1px;font-size:9px;color:#222">Page</div>
<div class="a" style="left:341.9px;top:202.5px;font-size:8.6px;color:#3a5bab">Page Title</div>
<div class="a" style="left:393.9px;top:202.5px;font-size:8.6px;color:#3a5bab">Other</div>
<svg class="a" style="left:416.8px;top:206px" width="6" height="4" viewBox="0 0 6 4"><path d="M0.2 0 H5.8 L3 2.8Z" fill="#aaa"/></svg>
<svg class="a" style="left:313px;top:215.5px" width="11" height="5" viewBox="0 0 11 5"><path d="M0 4 L5.5 0.5 L11 4" fill="#fff" stroke="#e0e0e0" stroke-width="0.8"/></svg>

<!-- toolbar -->
<div class="a" style="left:234.4px;top:223.3px;width:51px;height:22px;border:1px solid #e0e0e0;background:#f4f4f4;border-radius:2px"></div>
<div class="a" style="left:240.2px;top:230px;font-size:8.5px;color:#cacaca">Plot Rows</div>
<div class="a" style="left:290.5px;top:223.4px;width:110px;height:22px;border:1px solid #cfcfcf;background:#fafafa;border-radius:2px"></div>
<div class="a" style="left:296.6px;top:230.8px;font-size:8.6px;color:#333">Secondary dimension</div>
<svg class="a" style="left:388px;top:233.3px" width="7" height="4" viewBox="0 0 7 4"><path d="M0.3 0 H6.7 L3.5 3.4Z" fill="#555"/></svg>
<div class="a" style="left:405.2px;top:230.8px;font-size:8.6px;color:#555">Sort Type:</div>
<div class="a" style="left:449.3px;top:223.4px;width:54.3px;height:22px;border:1px solid #cfcfcf;background:#fafafa;border-radius:2px"></div>
<div class="a" style="left:456.3px;top:230.8px;font-size:8.7px;color:#333">Default</div>
<svg class="a" style="left:491.2px;top:233.3px" width="7" height="4" viewBox="0 0 7 4"><path d="M0.3 0 H6.7 L3.5 3.4Z" fill="#555"/></svg>
<div class="a" style="left:994.3px;top:226.4px;width:156px;height:17.5px;border:1px solid #999;background:#fff"></div>
<div class="a" style="left:1126px;top:227px;width:1px;height:16.5px;background:#ccc"></div>
<div class="a" style="left:1127px;top:227.4px;width:21.4px;height:15.5px;background:#fafafa"></div>
<div class="a" style="left:998.8px;top:230.7px;font-size:9.1px;letter-spacing:0.2px;color:#222">molecular-oncology-resear</div>
<svg class="a" style="left:1114.6px;top:229.8px" width="10" height="10" viewBox="0 0 10 10"><circle cx="5" cy="5" r="4.5" fill="#d4d4d4"/><path d="M3 3 L7 7 M7 3 L3 7" stroke="#fff" stroke-width="1.2"/></svg>
<svg class="a" style="left:1132.8px;top:230.2px" width="11" height="11" viewBox="0 0 11 11"><circle cx="4.3" cy="4.3" r="3.1" fill="none" stroke="#444" stroke-width="1.4"/><path d="M6.6 6.6 L9.8 9.8" stroke="#444" stroke-width="1.9"/></svg>
<div class="a" style="left:1156.9px;top:230.5px;font-size:9.25px;color:#33578c">advanced</div>
<div class="a" style="left:1209.4px;top:225.2px;width:112.1px;height:19.6px;border:1px solid #ccc;background:#f6f6f6"></div>
<div class="a" style="left:1231.3px;top:225.5px;width:23px;height:19px;background:#e2e2e2"></div>
<div class="a" style="left:1231px;top:225.5px;width:1px;height:19px;background:#ccc"></div>
<div class="a" style="left:1254px;top:225.5px;width:1px;height:19px;background:#ccc"></div>
<div class="a" style="left:1276.5px;top:225.5px;width:1px;height:19px;background:#ccc"></div>
<div class="a" style="left:1299px;top:225.5px;width:1px;height:19px;background:#ccc"></div>
<svg class="a" style="left:1214.5px;top:229.5px" width="12" height="12" viewBox="0 0 12 12"><rect x="0.5" y="0.5" width="10" height="10" fill="none" stroke="#888" stroke-width="1"/><path d="M0.5 3.8 H10.5 M0.5 7.2 H10.5 M3.8 0.5 V10.5 M7.2 0.5 V10.5" stroke="#888" stroke-width="1"/></svg>
<svg class="a" style="left:1237px;top:229.5px" width="12" height="12" viewBox="0 0 12 12"><circle cx="6" cy="6" r="5.5" fill="#999"/><path d="M6 0.5 V6 H11.5" fill="none" stroke="#e2e2e2" stroke-width="1"/></svg>
<svg class="a" style="left:1259.5px;top:229.5px" width="12" height="12" viewBox="0 0 12 12"><path d="M0 1.5 H10 M0 5.5 H6 M0 9.5 H8" stroke="#666" stroke-width="2"/></svg>
<svg class="a" style="left:1282px;top:229.5px" width="12" height="12" viewBox="0 0 12 12"><path d="M1 1.5 H6 M4 4.3 H9 M3 7 H6 M5 9.8 H11 M5.5 1 V10.5" stroke="#555" stroke-width="1.4"/></svg>
<svg class="a" style="left:1304.5px;top:229.5px" width="13" height="12" viewBox="0 0 13 12"><path d="M1 1.5 H12" stroke="#777" stroke-width="1.4" stroke-dasharray="1.8 1"/><path d="M1.5 3.5 V10.5" stroke="#555" stroke-width="1.6" stroke-dasharray="1.6 1"/><path d="M5 3.5 V10.5 M8 3.5 V10.5 M11 3.5 V10.5" stroke="#aaa" stroke-width="1"/></svg>

<!-- pie -->
<svg class="a" style="left:0;top:0" width="1354" height="626" viewBox="0 0 1354 626"><path d="M1182,406 L1182.00,332.70 A73.3,73.3 0 1 1 1118.24,442.16 Z" fill="#058dc7" stroke="#fff" stroke-width="1"/><path d="M1182,406 L1118.24,442.16 A73.3,73.3 0 0 1 1113.76,379.23 Z" fill="#50b432" stroke="#fff" stroke-width="1"/><path d="M1182,406 L1113.76,379.23 A73.3,73.3 0 0 1 1117.97,370.32 Z" fill="#ed561b" stroke="#fff" stroke-width="1"/><path d="M1182,406 L1117.97,370.32 A73.3,73.3 0 0 1 1120.86,365.56 Z" fill="#edef00" stroke="#fff" stroke-width="1"/><path d="M1182,406 L1120.86,365.56 A73.3,73.3 0 0 1 1122.51,363.18 Z" fill="#24cbe5" stroke="#fff" stroke-width="1"/><path d="M1182,406 L1122.51,363.18 A73.3,73.3 0 0 1 1125.05,359.85 Z" fill="#64e572" stroke="#fff" stroke-width="1"/><path d="M1182,406 L1125.05,359.85 A73.3,73.3 0 0 1 1127.29,357.22 Z" fill="#ff9655" stroke="#fff" stroke-width="1"/><path d="M1182,406 L1127.29,357.22 A73.3,73.3 0 0 1 1129.20,355.16 Z" fill="#fff263" stroke="#fff" stroke-width="1"/><path d="M1182,406 L1129.20,355.16 A73.3,73.3 0 0 1 1130.82,353.52 Z" fill="#6af9c4" stroke="#fff" stroke-width="1"/><path d="M1182,406 L1130.82,353.52 A73.3,73.3 0 0 1 1132.70,351.75 Z" fill="#b2deff" stroke="#fff" stroke-width="1"/><path d="M1182,406 L1132.70,351.75 A73.3,73.3 0 0 1 1182.00,332.70 Z" fill="#cccccc" stroke="#fff" stroke-width="1"/></svg>
<div class="a pl" style="left:1219.5px;top:429.5px">66.8%</div>
<div class="a pl" style="left:1116.5px;top:405px">14.2%</div>
<div class="a pl" style="left:1151px;top:348px">11.7%</div>
<!-- footer -->
<div class="a" style="left:1089.1px;top:590px;font-size:8.7px;color:#333">Show rows:</div>
<div class="a" style="left:1138.3px;top:585.6px;width:41.3px;height:17.8px;border:1px solid #555;background:#fff"></div>
<div class="a" style="left:1142.7px;top:591.3px;font-size:8.8px;color:#333">10</div>
<svg class="a" style="left:1165.5px;top:591px" width="10" height="7" viewBox="0 0 10 7"><path d="M1 1.2 L5 5.2 L9 1.2" fill="none" stroke="#111" stroke-width="1.9"/></svg>
<div class="a" style="left:1184.6px;top:590px;font-size:8.4px;color:#333">Go to:</div>
<div class="a" style="left:1211.1px;top:585.6px;width:27.7px;height:18.8px;border:1px solid #c8c8c8;border-top-color:#aaa;background:#fff"></div>
<div class="a" style="left:1217.6px;top:591.6px;font-size:8.8px;color:#333">1</div>
<div class="a" style="left:1243.5px;top:590px;font-size:8.6px;color:#333">1-10 of 68</div>
<div class="a" style="left:1288.4px;top:584.6px;width:45px;height:17.8px;border:1px solid #c8c8c8;border-radius:2px;background:linear-gradient(#f6f6f6,#e6e6e6)"></div>
<div class="a" style="left:1310.5px;top:585px;width:1px;height:17px;background:#c8c8c8"></div>
<svg class="a" style="left:1296.5px;top:589.5px" width="6" height="8" viewBox="0 0 6 8"><path d="M4.5 1 L1.5 4 L4.5 7" fill="none" stroke="#222" stroke-width="1.6"/></svg>
<svg class="a" style="left:1319px;top:589.5px" width="6" height="8" viewBox="0 0 6 8"><path d="M1.5 1 L4.5 4 L1.5 7" fill="none" stroke="#222" stroke-width="1.6"/></svg>
<div class="a" style="left:900px;width:434.5px;text-align:right;top:613px;font-size:8.75px;color:#555">This report was generated on 10/01/2023 at 12:21:40 - <span style="color:#2f5a8c">Refresh Report</span></div>

</body></html>
